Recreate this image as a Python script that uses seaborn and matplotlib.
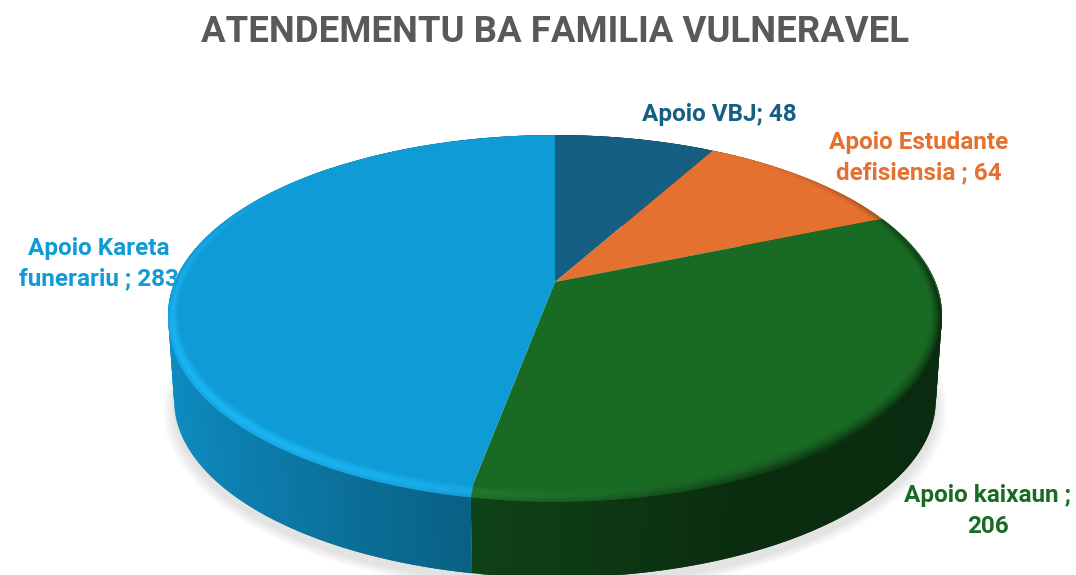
import numpy as np
import seaborn as sns
from matplotlib import pyplot as plt
from matplotlib import transforms as mtransforms
from matplotlib.collections import PolyCollection

title = 'ATENDEMENTU BA FAMILIA VULNERAVEL'
categories = ['Apoio VBJ', 'Apoio Estudante\ndefisiensia', 'Apoio kaixaun', 'Apoio Kareta\nfunerariu']
values = [48, 64, 206, 283]
label_text = ['Apoio VBJ; 48', 'Apoio Estudante\ndefisiensia ; 64', 'Apoio kaixaun ;\n206', 'Apoio Kareta\nfunerariu ; 283']
label_pos = [(719, 114), (919, 158), (988, 511), (99, 264)]
colors = sns.color_palette(['#156082', '#E57130', '#196B24', '#0F9BD5'])


class Tilt(mtransforms.Transform):
    # unit circle -> tilted disc in pixel coords, level 1 is the underside
    input_dims = 2
    output_dims = 2

    def __init__(self, level=0.0):
        super().__init__()
        self.level = level

    def transform_non_affine(self, values):
        values = np.asarray(values, dtype=float)
        w = 1 + 0.1833 * values[:, 1]
        s = 1 - 0.016 * self.level
        px = 555 + 380.4 * s * values[:, 0] / w
        py = 282 + 86 * self.level - 173.9 * s * values[:, 1] / w
        return np.column_stack([px, py])


top = Tilt(0)
under = Tilt(1)

sns.set_theme(style='white', font='Roboto')
fig = plt.figure(figsize=(10.76, 5.75), dpi=100)
ax = fig.add_axes([0, 0, 1, 1])

wedges, _ = ax.pie(values, colors=colors, startangle=90, counterclock=False, radius=1,
                   wedgeprops=dict(linewidth=0, zorder=5))
for w in wedges:
    w.set_transform(top + ax.transData)

ax.set_aspect('auto')
ax.set_xlim(0, 1076)
ax.set_ylim(575, 0)
ax.axis('off')


def ring(phi, r):
    return np.column_stack([r * np.cos(np.radians(phi)), r * np.sin(np.radians(phi))])


# soft shadow under the disc
for grow in np.linspace(1.03, 1.0, 14):
    phi = np.linspace(0, 360, 181)
    pts = under.transform(ring(phi, grow)) + [0, 8]
    ax.fill(pts[:, 0], pts[:, 1], color='k', alpha=0.009, lw=0, zorder=1)

# side wall gets darker towards the right, rim is a small bevel round the top face
wall_polys, wall_cols = [], []
rim_polys, rim_cols = [], []
for w, c in zip(wedges, colors):
    c = np.array(c)
    phis = np.linspace(w.theta1, w.theta2, int(w.theta2 - w.theta1) + 2)
    step = phis[1] - phis[0]
    for a, b in zip(phis[:-1], phis[1:]):
        # each strip runs on under the next one so no seams show
        p = ring(np.array([a, min(b + step, w.theta2)]), 1)
        wall_polys.append(np.vstack([top.transform(p), under.transform(p)[::-1]]))
        f = np.interp(np.cos(np.radians(a)), [-1, -0.2, 0.4, 1], [0.92, 0.62, 0.42, 0.4])
        wall_cols.append(c * f)

        m = np.radians((a + b) / 2)
        light = np.clip(np.cos(m - np.radians(220)), 0, 1) ** 1.3
        dark = np.clip(np.cos(m - np.radians(335)), 0, 1) ** 2
        if light + dark < 0.01:
            continue
        sag = 0.08 * np.clip(0.5 - np.sin(m), 0, 1)
        ts = np.linspace(0, 1, 9)
        for t0, t1 in zip(ts[:-1], ts[1:]):
            t = (t0 + t1) / 2
            bump = np.sin(np.pi * min(t / 0.7, 1) / 2) ** 2 * (1 - 0.5 * max(t - 0.7, 0) / 0.3)
            bright = np.clip(c * 1.15, 0, 1) * 0.95 + 0.05
            col = c + (bright - c) * light * bump
            col = col * (1 - 0.68 * dark * t ** 1.5)
            outer = Tilt(sag * t1).transform(ring(np.array([a, b]), 0.97 + 0.03 * t1))
            inner = Tilt(sag * t0).transform(ring(np.array([b, a]), 0.97 + 0.03 * t0))
            rim_polys.append(np.vstack([outer, inner]))
            rim_cols.append(np.clip(col, 0, 1))

ax.add_collection(PolyCollection(wall_polys, facecolors=wall_cols, edgecolors='none', linewidths=0, zorder=3))
ax.add_collection(PolyCollection(rim_polys, facecolors=rim_cols, edgecolors=rim_cols, linewidths=0.3, zorder=6))

ax.text(555, 32, title, color='#595959', fontsize=26.3, fontweight='bold', ha='center', va='center')
for txt, (x, y), c in zip(label_text, label_pos, colors):
    ax.text(x, y, txt, color=c, fontsize=17.5, fontweight='bold', ha='center', va='center',
            linespacing=1.4, zorder=8)

fig.savefig('out.png', dpi=100)
